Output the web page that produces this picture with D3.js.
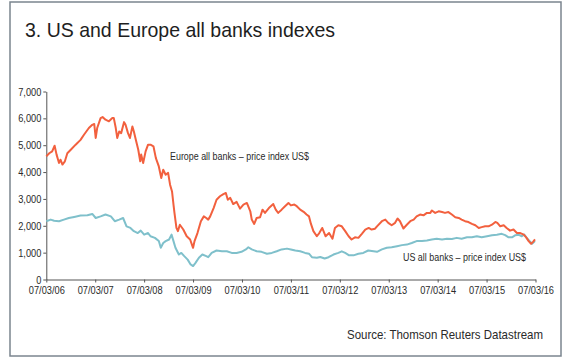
<!DOCTYPE html>
<html><head><meta charset="utf-8">
<script src="https://cdn.jsdelivr.net/npm/d3@7"></script>
<style>
html,body{margin:0;padding:0;background:#fff;}
svg text{font-family:"Liberation Sans",Arial,sans-serif;}
</style></head>
<body><svg id="c" width="580" height="358"></svg>
<script>
// ---- data (decimal year, value) ----
const euYears = [2006.18,2006.24,2006.30,2006.35,2006.39,2006.44,2006.47,2006.51,2006.56,2006.61,2006.68,2006.78,2006.88,2006.95,2007.05,2007.12,2007.16,2007.19,2007.22,2007.29,2007.33,2007.39,2007.46,2007.53,2007.56,2007.60,2007.63,2007.67,2007.71,2007.77,2007.80,2007.85,2007.89,2007.94,2007.97,2008.01,2008.06,2008.10,2008.12,2008.16,2008.21,2008.26,2008.31,2008.37,2008.42,2008.48,2008.53,2008.57,2008.62,2008.67,2008.71,2008.75,2008.78,2008.80,2008.84,2008.87,2008.91,2008.98,2009.05,2009.12,2009.18,2009.21,2009.27,2009.34,2009.40,2009.45,
2009.49,2009.53,2009.60,2009.66,2009.73,2009.80,2009.85,2009.89,2009.94,2010.00,2010.07,2010.14,2010.21,2010.28,2010.35,2010.38,2010.43,2010.48,2010.55,2010.60,2010.65,2010.73,2010.82,2010.87,2010.92,2010.99,2011.06,2011.13,2011.18,2011.25,2011.30,2011.37,2011.44,2011.50,2011.55,2011.59,2011.64,2011.71,2011.76,2011.82,2011.89,2011.96,2012.03,2012.08,2012.15,2012.22,2012.29,2012.36,2012.42,2012.49,2012.56,2012.63,2012.70,2012.77,2012.83,2012.90,
2012.94,2013.04,2013.11,2013.17,2013.24,2013.31,2013.36,2013.41,2013.48,2013.55,2013.62,2013.69,2013.75,2013.82,2013.89,2013.96,2014.03,2014.06,2014.13,2014.20,2014.27,2014.33,2014.40,2014.47,2014.54,2014.61,2014.67,2014.74,2014.81,2014.88,2014.95,2015.02,2015.08,2015.15,2015.22,2015.29,2015.36,2015.40,2015.46,2015.53,2015.59,2015.66,2015.73,2015.80,2015.87,2015.94,2015.99,2016.04,2016.09,2016.13,2016.17];
const euValues = [4585,4700,4770,4980,4650,4340,4460,4280,4400,4700,4830,5020,5200,5390,5640,5760,5790,5270,5640,6010,6050,5950,5890,6010,6010,5640,5270,5510,5450,5860,5760,5450,5270,5700,5510,5200,4830,4400,4650,4340,4770,5020,5020,4960,4520,4210,3780,4090,3900,3970,3530,3280,2790,2480,1920,1800,2040,1860,1610,1490,1180,1430,1730,2170,2350,2290,
2230,2350,2660,2970,3100,3180,3220,2970,3040,2810,2890,2640,2790,2850,2540,2230,2070,2290,2320,2600,2480,2660,2810,2600,2480,2600,2730,2850,2760,2790,2730,2600,2520,2420,2350,2070,1800,1610,1730,1920,1610,1730,1520,1920,2020,1980,1800,1610,1490,1570,1550,1700,1860,1920,1860,1890,
1980,2170,2230,2110,2020,2110,2270,2170,1900,2040,2170,2230,2350,2420,2390,2480,2480,2570,2480,2540,2510,2480,2510,2420,2320,2290,2230,2170,2140,2070,2020,1920,1950,1980,1980,2040,2140,2110,1980,2020,1920,1820,1860,1730,1730,1670,1570,1430,1330,1400,1490];

const usYears = [2006.18,2006.27,2006.34,2006.44,2006.54,2006.64,2006.75,2006.88,2007.02,2007.12,2007.19,2007.29,2007.39,2007.50,2007.58,2007.67,2007.75,2007.82,2007.90,2007.97,2008.05,2008.11,2008.18,2008.26,2008.31,2008.40,2008.48,2008.52,2008.57,2008.62,2008.69,2008.74,2008.78,2008.82,2008.89,2008.94,2009.00,2009.07,2009.13,2009.18,2009.23,2009.30,2009.37,2009.45,
2009.49,2009.56,2009.66,2009.77,2009.87,2009.97,2010.07,2010.17,2010.26,2010.31,2010.38,2010.48,2010.58,2010.69,2010.79,2010.89,2010.99,2011.10,2011.18,2011.27,2011.37,2011.47,2011.55,2011.61,2011.71,2011.78,2011.87,2011.95,2012.05,2012.15,2012.22,2012.29,2012.37,2012.46,2012.56,2012.66,2012.76,2012.87,
2012.94,2013.04,2013.14,2013.24,2013.35,2013.45,2013.55,2013.65,2013.75,2013.86,2013.96,2014.06,2014.16,2014.27,2014.37,2014.47,2014.57,2014.67,2014.78,2014.88,2014.98,2015.08,2015.19,2015.29,2015.39,2015.49,2015.56,2015.63,2015.70,2015.77,2015.83,2015.90,2015.95,2016.00,2016.06,2016.11,2016.17];
const usValues = [2170,2230,2190,2170,2230,2290,2330,2380,2390,2440,2290,2350,2420,2350,2170,2230,2290,1980,1920,1800,1730,1820,1670,1730,1610,1550,1430,1180,1360,1430,1490,1670,1430,1180,930,990,870,740,560,500,620,810,930,870,
830,990,1080,1050,1050,990,990,1030,1120,1200,1120,1050,1030,960,990,1050,1120,1150,1120,1080,1050,990,960,830,810,840,780,830,930,990,1050,990,900,900,960,990,1080,1050,
1030,1120,1180,1200,1240,1280,1300,1360,1430,1430,1450,1490,1520,1490,1520,1510,1550,1520,1570,1570,1610,1570,1610,1650,1670,1700,1650,1570,1570,1650,1670,1610,1670,1550,1430,1330,1430];

const xTickYears = [2006.18,2007.18,2008.18,2009.18,2010.18,2011.18,2012.18,2013.18,2014.18,2015.18,2016.18];
const xTickLabels = ["07/03/06","07/03/07","07/03/08","07/03/09","07/03/10","07/03/11","07/03/12","07/03/13","07/03/14","07/03/15","07/03/16"];
const yTicks = [0,1000,2000,3000,4000,5000,6000,7000];

const title = "3. US and Europe all banks indexes";
const euLabel = "Europe all banks \u2013 price index US$";
const usLabel = "US all banks \u2013 price index US$";
const source = "Source: Thomson Reuters Datastream";

// ---- drawing ----
const svg = d3.select("#c");
function condense(sel, factor) {
  sel.each(function(){
    const w = this.getComputedTextLength();
    d3.select(this).attr("textLength", w*factor).attr("lengthAdjust","spacingAndGlyphs");
  });
}
function fitTo(sel, width) {
  sel.attr("textLength", width).attr("lengthAdjust","spacingAndGlyphs");
}

svg.append("rect").attr("x",10).attr("y",2).attr("width",551).attr("height",354)
  .attr("fill","#fff").attr("stroke","#7b858f").attr("stroke-width",1.5);

svg.append("text").attr("x",25).attr("y",37).attr("font-size",21).attr("fill","#1e1e1e").text(title)
  .call(fitTo, 310);

const x = d3.scaleLinear().domain([2006.18,2016.18]).range([46.3,535.5]);
const y = d3.scaleLinear().domain([0,7000]).range([279.5,91.5]);

const xAxis = svg.append("g").attr("transform","translate(0,279.5)")
  .call(d3.axisBottom(x).tickValues(xTickYears).tickFormat((d,i)=>xTickLabels[i]).tickSize(3).tickSizeOuter(0).tickPadding(4));
const yAxis = svg.append("g").attr("transform","translate(46.3,0)")
  .call(d3.axisLeft(y).tickValues(yTicks).tickFormat(d3.format(",")).tickSize(3).tickSizeOuter(0).tickPadding(2));
[xAxis,yAxis].forEach(g=>{
  g.selectAll("path,line").attr("stroke","#555").attr("stroke-width",1);
  g.selectAll("text").attr("fill","#2a2a2a").attr("font-size",11)
   .style("font-family",'"Liberation Sans",Arial,sans-serif').call(condense, 0.84);
});

const line = d3.line().x(d=>x(d[0])).y(d=>y(d[1]));
const us = usYears.map((t,i)=>[t,usValues[i]]);
const eu = euYears.map((t,i)=>[t,euValues[i]]);
svg.append("path").datum(us).attr("d",line).attr("fill","none").attr("stroke","#7fc0cb").attr("stroke-width",2).attr("stroke-linejoin","round");
svg.append("path").datum(eu).attr("d",line).attr("fill","none").attr("stroke","#f2603e").attr("stroke-width",2).attr("stroke-linejoin","round");

svg.append("text").attr("x",170).attr("y",160).attr("font-size",11).attr("fill","#2a2a2a").text(euLabel).call(fitTo,139);
svg.append("text").attr("x",403).attr("y",261).attr("font-size",11).attr("fill","#2a2a2a").text(usLabel).call(fitTo,123);
svg.append("text").attr("x",347).attr("y",339).attr("font-size",13).attr("fill","#2a2a2a").text(source).call(fitTo,196);
</script></body></html>
